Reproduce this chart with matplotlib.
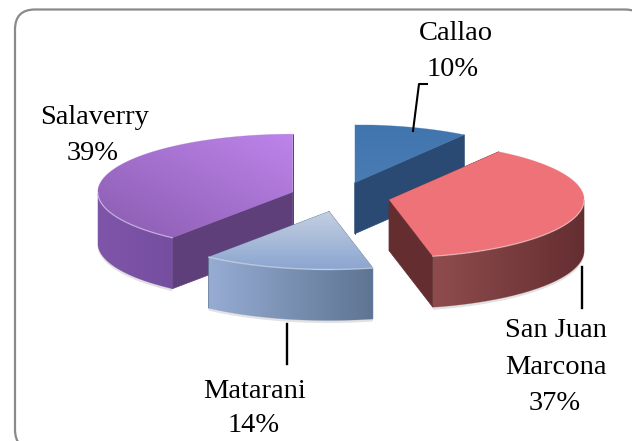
import numpy as np
import matplotlib
matplotlib.use("Agg")
import matplotlib.pyplot as plt
from matplotlib.colors import LinearSegmentedColormap, to_rgb
from matplotlib.patches import FancyBboxPatch, Polygon

categories = ["Callao", "San Juan\nMarcona", "Matarani", "Salaverry"]
shares = [9.5, 36.9, 14.2, 39.4]
percent_labels = ["10%", "37%", "14%", "39%"]

# Styling, one entry per slice: top-face gradient (start, end, direction),
# outer-wall gradient (left, right) and the dark radial wall
top_styles = [("#4175ae", "#4a7cb4", "v"), ("#ee7378", "#ee7378", "v"),
              ("#c3cfe1", "#8ba5d0", "v"), ("#bd84ea", "#8a5cb0", "d")]
wall_styles = [("#2a4a73", "#2a4a73"), ("#8f4c4e", "#642e30"),
               ("#96acd3", "#5e7492"), ("#7f55a9", "#754ea0")]
radial_colors = ["#2a4a73", "#642e30", "#5e7492", "#5f3f7a"]
paint_order = [0, 3, 1, 2]

# Layout in pixels
W, H = 632, 441
CX, CY = 340, 197
RX, RY = 195, 58
EXPLODE = 50
DEPTH = 51

fig = plt.figure(figsize=(W / 100, H / 100), dpi=100, facecolor="white")
ax = fig.add_axes([0, 0, 1, 1])
ax.set_xlim(0, W)
ax.set_ylim(H, 0)
ax.axis("off")

ax.add_patch(FancyBboxPatch((35, 29.5), 590, 400, boxstyle="round,pad=20,rounding_size=20",
                            fc="white", ec="#8a8a8a", lw=1.6, zorder=0))


def project(apex, theta):
    return np.column_stack([apex[0] + RX * np.sin(theta), apex[1] - RY * np.cos(theta)])


def gradient_fill(poly, c0, c1, mode, z):
    xs, ys = poly[:, 0], poly[:, 1]
    cmap = LinearSegmentedColormap.from_list("g", [to_rgb(c0), to_rgb(c1)])
    n = 128
    u, v = np.meshgrid(np.linspace(0, 1, n), np.linspace(0, 1, n))
    field = {"h": u, "v": v, "d": (1 - u + v) / 2}[mode]
    im = ax.imshow(field, cmap=cmap, vmin=0, vmax=1, aspect="auto", zorder=z,
                   extent=(xs.min(), xs.max(), ys.max(), ys.min()), interpolation="bilinear")
    patch = Polygon(poly, closed=True, transform=ax.transData, fc="none", ec="none")
    ax.add_patch(patch)
    im.set_clip_path(patch)
    ax.add_patch(Polygon(poly, closed=True, fc="none", ec=cmap(0.5), lw=0.5, alpha=0.35, zorder=z))


edges = np.radians(np.concatenate([[0], np.cumsum(shares) * 3.6]))
z = 2
for i in paint_order:
    t0, t1 = edges[i], edges[i + 1]
    mid = (t0 + t1) / 2
    apex = (CX + EXPLODE * np.sin(mid), CY - EXPLODE * RY / RX * np.cos(mid))
    arc_t = np.linspace(t0, t1, 120)
    arc = project(apex, arc_t)
    down = np.array([0, DEPTH])
    apex_pt = np.array(apex)

    # radial walls
    for end in (arc[0], arc[-1]):
        poly = np.array([apex_pt, end, end + down, apex_pt + down])
        ax.add_patch(Polygon(poly, closed=True, fc=radial_colors[i], ec=radial_colors[i],
                             lw=0.5, zorder=z))
    z += 1

    # outer wall: only the part of the rim that faces the viewer
    front = arc_t[(arc_t >= np.pi / 2) & (arc_t <= 3 * np.pi / 2)]
    if len(front) > 1:
        rim = project(apex, front)
        wall = np.vstack([rim, (rim + down)[::-1]])
        halo = wall + np.array([0, 2.5])
        ax.add_patch(Polygon(halo, closed=True, fc="#e2e2e2", ec="none", zorder=1))
        gradient_fill(wall, wall_styles[i][0], wall_styles[i][1], "h", z)
        z += 1
        ax.plot(rim[:, 0], rim[:, 1], color="white", alpha=0.4, lw=1, zorder=z + 1)

    # top face
    top = np.vstack([apex_pt, arc])
    gradient_fill(top, *top_styles[i], z)
    z += 3

ax.set_xlim(0, W)
ax.set_ylim(H, 0)

# Leader lines
ax.plot([427, 419, 413], [84, 84, 131], color="black", lw=1.5, zorder=50)
ax.plot([582, 582], [267, 308], color="black", lw=1.7, zorder=50)
ax.plot([287, 287], [324, 364], color="black", lw=1.7, zorder=50)

# Labels
text_style = dict(family="Liberation Serif", fontsize=20.5, color="black",
                  ha="center", va="center", zorder=60)
label_pos = [((456, 33), (453, 69)),
             ((556, 349), (555, 403)),
             ((255, 391), (254, 426)),
             ((95, 117), (93, 154))]
for name, pct, (p_name, p_pct) in zip(categories, percent_labels, label_pos):
    ax.text(*p_name, name, linespacing=1.58, **text_style)
    ax.text(*p_pct, pct, **text_style)

fig.savefig("out.png", dpi=100, facecolor="white")
